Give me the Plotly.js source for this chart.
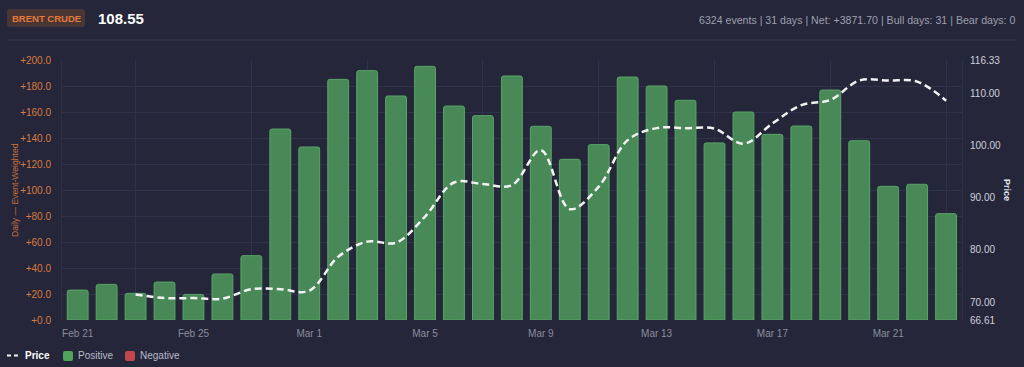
<!DOCTYPE html>
<html>
<head>
<meta charset="utf-8">
<script src="https://cdn.plot.ly/plotly-3.0.1.min.js"></script>
<style>
html,body{margin:0;padding:0;background:#25263a;}
#chart{width:1024px;height:367px;}
</style>
</head>
<body>
<div id="chart"></div>
<script>
const dates = ["2026-02-21","2026-02-22","2026-02-23","2026-02-24","2026-02-25","2026-02-26","2026-02-27","2026-02-28",
  "2026-03-01","2026-03-02","2026-03-03","2026-03-04","2026-03-05","2026-03-06","2026-03-07","2026-03-08",
  "2026-03-09","2026-03-10","2026-03-11","2026-03-12","2026-03-13","2026-03-14","2026-03-15","2026-03-16",
  "2026-03-17","2026-03-18","2026-03-19","2026-03-20","2026-03-21","2026-03-22","2026-03-23"];
const dailyValues = [23.0,27.4,20.5,29.2,19.7,35.4,49.5,146.9,133.1,185.1,191.8,172.3,195.1,164.6,157.2,187.7,
  149.0,123.6,134.9,186.9,180.0,169.0,136.2,160.0,142.8,149.2,176.9,137.9,102.8,104.4,81.8];
const priceDates = dates.slice(2);
const priceValues = [71.5,70.8,70.8,70.7,72.5,72.5,72.2,78.7,81.6,81.4,86.4,92.9,92.6,92.4,99.1,87.8,92.1,101.0,
  103.3,103.3,103.2,100.3,104.2,107.7,108.7,112.4,112.4,112.2,108.55];
const xTickVals = ["2026-02-21","2026-02-25","2026-03-01","2026-03-05","2026-03-09","2026-03-13","2026-03-17","2026-03-21"];
const xTickText = ["Feb 21","Feb 25","Mar 1","Mar 5","Mar 9","Mar 13","Mar 17","Mar 21"];
const xGridVals = ["2026-02-23","2026-02-27","2026-03-03","2026-03-07","2026-03-11","2026-03-15","2026-03-19","2026-03-23"];
const dailyTickVals = [0,20,40,60,80,100,120,140,160,180,200];
const dailyTickText = ["+0.0","+20.0","+40.0","+60.0","+80.0","+100.0","+120.0","+140.0","+160.0","+180.0","+200.0"];
const priceTickVals = [66.61,70,80,90,100,110,116.33];
const priceTickText = ["66.61","70.00","80.00","90.00","100.00","110.00","116.33"];
const headerInfo = "6324 events | 31 days | Net: +3871.70 | Bull days: 31 | Bear days: 0";
const symbolName = "BRENT CRUDE";
const lastPrice = "108.55";

const W = 1024, H = 367, L = 62, R = 962, T = 60, B = 320;
const px = x => (x - L) / (R - L);
const py = y => (B - y) / (B - T);
const FONT = "Liberation Sans, Arial, sans-serif";

function roundRect(x0, y0, x1, y1, r) {
  const f = (x, y) => px(x) + "," + py(y);
  return "M" + f(x0 + r, y0) + " L" + f(x1 - r, y0) + " Q" + f(x1, y0) + " " + f(x1, y0 + r) +
    " L" + f(x1, y1 - r) + " Q" + f(x1, y1) + " " + f(x1 - r, y1) + " L" + f(x0 + r, y1) +
    " Q" + f(x0, y1) + " " + f(x0, y1 - r) + " L" + f(x0, y0 + r) + " Q" + f(x0, y0) + " " + f(x0 + r, y0) + " Z";
}

const traces = [
  {
    type: "bar", x: dates, y: dailyValues, name: "Positive",
    marker: {color: "#498957", line: {color: "#58a667", width: 1}, cornerradius: 2},
    hoverinfo: "x+y", showlegend: false
  },
  {
    type: "scatter", mode: "lines", x: priceDates, y: priceValues, name: "Price", yaxis: "y2",
    line: {color: "#f2f2f2", width: 2.5, dash: "7px,4px", shape: "spline", smoothing: 1},
    showlegend: false
  }
];

const shapes = [
  {type: "line", xref: "paper", yref: "paper", x0: px(7), x1: px(1017), y0: py(40), y1: py(40),
    line: {color: "#34364b", width: 1}},
  {type: "path", xref: "paper", yref: "paper", path: roundRect(7, 9, 85, 27, 3),
    fillcolor: "#4a3535", line: {width: 0}},
  {type: "line", xref: "paper", yref: "paper", x0: px(7), x1: px(19), y0: py(355.5), y1: py(355.5),
    line: {color: "#f2f2f2", width: 2, dash: "4px,3px"}},
  {type: "path", xref: "paper", yref: "paper", path: roundRect(63, 351, 73, 361, 2),
    fillcolor: "#4fa55c", line: {width: 0}},
  {type: "path", xref: "paper", yref: "paper", path: roundRect(125, 351, 135, 361, 2),
    fillcolor: "#c0474e", line: {width: 0}}
];

const annotations = [
  {xref: "paper", yref: "paper", x: px(46), y: py(18.5), xanchor: "center", yanchor: "middle", showarrow: false,
    text: symbolName, font: {family: FONT, size: 9.5, color: "#e27c3a", weight: 700}},
  {xref: "paper", yref: "paper", x: px(96), y: py(18.5), xanchor: "left", yanchor: "middle", showarrow: false,
    text: lastPrice, font: {family: FONT, size: 15, color: "#ffffff", weight: 700}},
  {xref: "paper", yref: "paper", x: px(1017), y: py(20), xanchor: "right", yanchor: "middle", showarrow: false,
    text: headerInfo, font: {family: FONT, size: 10.6, color: "#9da0ae"}},
  {xref: "paper", yref: "paper", x: px(15), y: py(190), xanchor: "center", yanchor: "middle", showarrow: false,
    textangle: -90, text: "Daily — Event-Weighted", font: {family: FONT, size: 8.6, color: "#c8703a"}},
  {xref: "paper", yref: "paper", x: px(1007), y: py(190), xanchor: "center", yanchor: "middle", showarrow: false,
    textangle: 90, text: "Price", font: {family: FONT, size: 9, color: "#e4e5ea", weight: 700}},
  {xref: "paper", yref: "paper", x: px(23), y: py(355.5), xanchor: "left", yanchor: "middle", showarrow: false,
    text: "Price", font: {family: FONT, size: 10, color: "#ffffff", weight: 700}},
  {xref: "paper", yref: "paper", x: px(76), y: py(355.5), xanchor: "left", yanchor: "middle", showarrow: false,
    text: "Positive", font: {family: FONT, size: 10, color: "#b9bcc8"}},
  {xref: "paper", yref: "paper", x: px(138), y: py(355.5), xanchor: "left", yanchor: "middle", showarrow: false,
    text: "Negative", font: {family: FONT, size: 10, color: "#b9bcc8"}}
];

const layout = {
  width: W, height: H,
  margin: {l: L, r: W - R, t: T, b: H - B, pad: 0},
  paper_bgcolor: "#25263a", plot_bgcolor: "#25263a",
  bargap: 0.28,
  showlegend: false,
  xaxis: {
    type: "date", range: ["2026-02-20 11:00", "2026-03-23 13:12"],
    tickmode: "array", tickvals: xTickVals, ticktext: xTickText,
    showgrid: false, zeroline: false, showline: false,
    ticks: "outside", ticklen: 4, tickcolor: "rgba(0,0,0,0)",
    tickfont: {family: FONT, size: 10, color: "#8a8d9c"},
    minor: {tickmode: "array", tickvals: xGridVals, showgrid: true, gridcolor: "#30324a", gridwidth: 1, ticks: ""}
  },
  yaxis: {
    range: [0, 200], tickmode: "array", tickvals: dailyTickVals, ticktext: dailyTickText,
    showgrid: true, gridcolor: "#30324a", gridwidth: 1, zeroline: false,
    showline: true, linecolor: "#2e3046", mirror: true,
    ticklabelstandoff: 8,
    tickfont: {family: FONT, size: 10, color: "#d97a3d"}
  },
  yaxis2: {
    overlaying: "y", side: "right", range: [66.61, 116.33],
    tickmode: "array", tickvals: priceTickVals, ticktext: priceTickText,
    showgrid: false, zeroline: false, showline: false,
    ticklabelstandoff: 7,
    tickfont: {family: FONT, size: 10, color: "#cfd1da"}
  },
  shapes: shapes,
  annotations: annotations
};

Plotly.newPlot("chart", traces, layout, {displayModeBar: false, staticPlot: true});
</script>
</body>
</html>
